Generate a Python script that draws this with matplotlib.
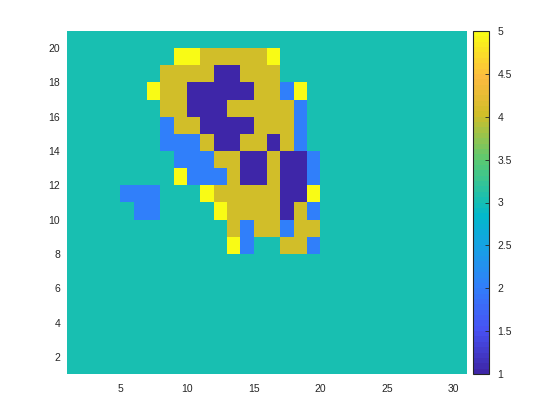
import numpy as np
import matplotlib
matplotlib.use("Agg")
import matplotlib.pyplot as plt
from matplotlib.colors import LinearSegmentedColormap

plt.rcParams['font.family'] = ['Liberation Sans', 'DejaVu Sans']

# cell values, one string per row, top row (y = 20..21) first, 30 columns each
ROWS = [
    "333333333333333333333333333333",
    "333333335544444533333333333333",
    "333333344441144433333333333333",
    "333333544111114425333333333333",
    "333333344111444442333333333333",
    "333333324411114442333333333333",
    "333333322241144142333333333333",
    "333333332224411411233333333333",
    "333333335222411411233333333333",
    "333322233354444411533333333333",
    "333332233335444414233333333333",
    "333333333333424424433333333333",
    "333333333333523344233333333333",
    "333333333333333333333333333333",
    "333333333333333333333333333333",
    "333333333333333333333333333333",
    "333333333333333333333333333333",
    "333333333333333333333333333333",
    "333333333333333333333333333333",
    "333333333333333333333333333333",
]
X_EDGES = np.arange(1, 32)
Y_EDGES = np.arange(1, 22)
CLIM = (1, 5)
X_TICKS = [5, 10, 15, 20, 25, 30]
Y_TICKS = [2, 4, 6, 8, 10, 12, 14, 16, 18, 20]
CB_TICKS = [1, 1.5, 2, 2.5, 3, 3.5, 4, 4.5, 5]
CB_LABELS = ['1', '1.5', '2', '2.5', '3', '3.5', '4', '4.5', '5']

# rough parula
parula_pts = [
    (0.000, (0.2422, 0.1504, 0.6603)),
    (0.125, (0.2810, 0.3228, 0.9579)),
    (0.254, (0.1900, 0.5000, 0.9800)),
    (0.375, (0.0800, 0.6400, 0.8900)),
    (0.460, (0.0100, 0.7200, 0.8000)),
    (0.508, (0.0956, 0.7494, 0.6948)),
    (0.625, (0.3500, 0.7900, 0.4500)),
    (0.762, (0.8200, 0.7450, 0.1600)),
    (0.870, (0.9900, 0.7300, 0.2500)),
    (1.000, (0.9769, 0.9839, 0.0805)),
]
parula = LinearSegmentedColormap.from_list('parula', parula_pts, N=64)

grid = np.array([[int(c) for c in r] for r in ROWS])[::-1]

fig = plt.figure(figsize=(5.6, 4.2), dpi=100)
ax = fig.add_axes([67 / 560, 46 / 420, 400 / 560, 343 / 420])
cax = fig.add_axes([473 / 560, 46 / 420, 16 / 560, 343 / 420])

mesh = ax.pcolormesh(X_EDGES, Y_EDGES, grid, cmap=parula,
                     vmin=CLIM[0], vmax=CLIM[1], shading='flat')
ax.set_xlim(X_EDGES[0], X_EDGES[-1])
ax.set_ylim(Y_EDGES[0], Y_EDGES[-1])
ax.set_xticks(X_TICKS)
ax.set_yticks(Y_TICKS)
ax.tick_params(length=0, labelsize=7.5, labelcolor='#262626')
ax.tick_params(axis='x', pad=7)
ax.tick_params(axis='y', pad=5)
for s in ax.spines.values():
    s.set_visible(False)

cb = fig.colorbar(mesh, cax=cax)
cb.set_ticks(CB_TICKS)
cb.set_ticklabels(CB_LABELS)
cax.tick_params(direction='in', length=3, width=0.6, labelsize=7.5,
                labelcolor='#262626', color='#262626', pad=6)
cb.outline.set_linewidth(0.8)
cb.outline.set_edgecolor('#262626')

fig.savefig('out.png', dpi=100)
